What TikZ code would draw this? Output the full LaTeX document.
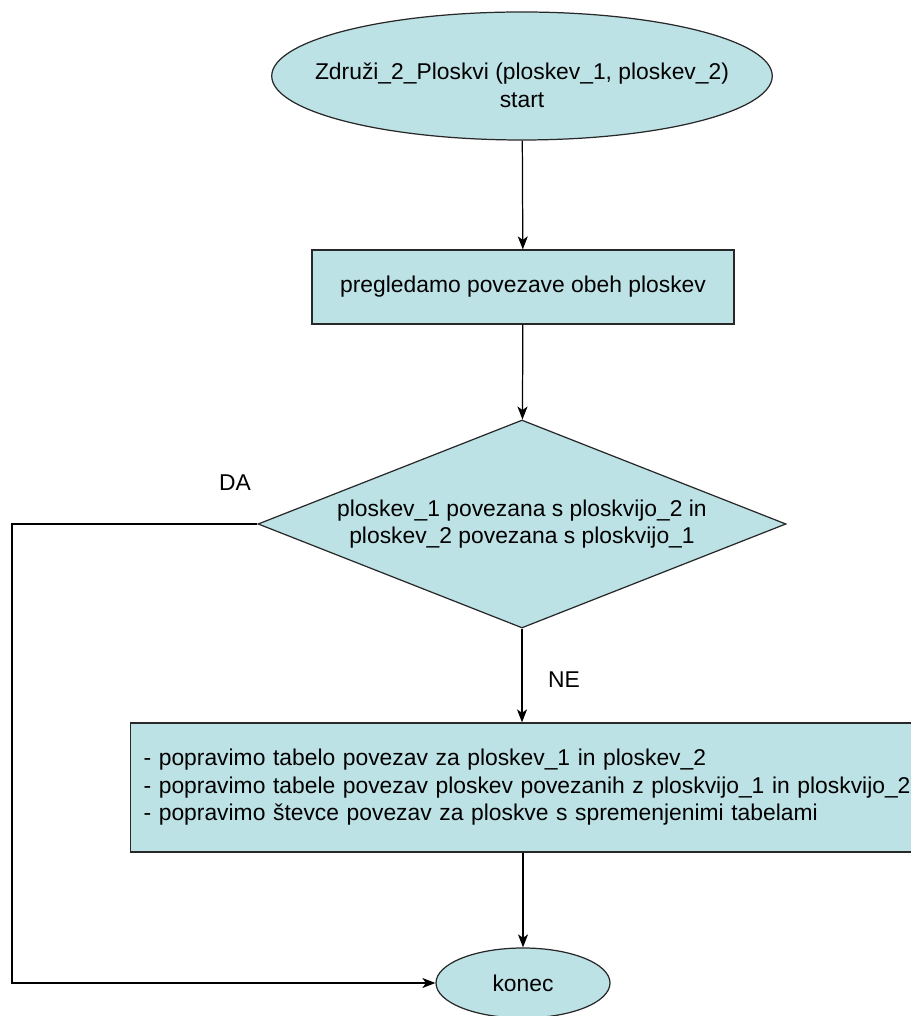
\documentclass[tikz,border=0pt]{standalone}
\usepackage{fontspec}
\setmainfont{Liberation Sans}
\usetikzlibrary{shapes.geometric,arrows.meta}
\definecolor{flowfill}{RGB}{189,226,230}
\definecolor{flowline}{RGB}{40,40,40}

\begin{document}
\begin{tikzpicture}
    [
    font=\fontsize{13pt}{15.6pt}\selectfont,
    terminal/.style={ellipse,draw=flowline,fill=flowfill,line width=0.7pt,inner sep=0pt,align=center},
    process/.style={rectangle,draw=flowline,fill=flowfill,line width=0.7pt,inner sep=0pt},
    decision/.style={diamond,draw=flowline,fill=flowfill,line width=0.7pt,inner sep=0pt,aspect=2.5,align=center},
    answer/.style={inner sep=0pt},
    flow/.style={line width=0.7pt,-{Stealth[length=2.6mm,width=2mm,inset=0.7mm]}}
    ]
    \useasboundingbox (0,0) rectangle (18.22,20.32);
    \node (start) at (10.44,18.8) [terminal,minimum width=10cm,minimum height=2.56cm,inner xsep=-0.6cm] {\rule{0pt}{0.7cm}Združi\_2\_Ploskvi (ploskev\_1, ploskev\_2)\\start};
    \node (check) at (10.46,14.58) [process,minimum width=8.44cm,minimum height=1.48cm] {pregledamo povezave obeh ploskev};
    \node (dec) at (10.44,9.84) [decision,minimum width=10.56cm,minimum height=4.16cm] {ploskev\_1 povezana s ploskvijo\_2 in\\ploskev\_2 povezana s ploskvijo\_1};
    \node (fix) at (2.6,4.57) [process,anchor=west,minimum width=16cm,minimum height=2.58cm,text width=15.48cm,align=left,inner xsep=0.26cm] {- popravimo tabelo povezav za ploskev\_1 in ploskev\_2\\- popravimo tabele povezav ploskev povezanih z ploskvijo\_1 in ploskvijo\_2\\- popravimo števce povezav za ploskve s spremenjenimi tabelami};
    \node (end) at (10.46,0.66) [terminal,minimum width=3.48cm,minimum height=1.4cm] {konec};
    \node (da) at (4.7,10.66) [answer] {DA};
    \node (ne) at (11.28,6.72) [answer] {NE};
    \coordinate (corner) at (0.24,9.84);
    \draw [flow] (start) to (check);
    \draw [flow] (check) to (dec);
    \draw [flow] (dec.south) to (dec.south |- fix.north);
    \draw [flow] (end.north |- fix.south) to (end.north);
    \draw [flow] (dec.west) -- (corner) |- (end.west);
  \end{tikzpicture}
\end{document}
